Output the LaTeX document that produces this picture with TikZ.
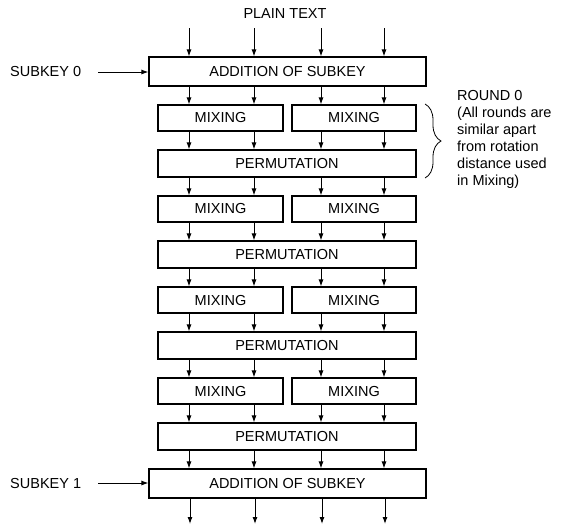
\documentclass[tikz,border=0pt]{standalone}
\usepackage{fontspec}
\setmainfont{Liberation Sans}
\usetikzlibrary{arrows.meta,decorations.pathreplacing,calc}
\begin{document}
\begin{tikzpicture}[x=1pt,y=-1pt,
  font=\fontsize{14.5}{17}\selectfont,
  box/.style={draw, line width=1.1pt, inner sep=0pt, align=center},
  arr/.style={line width=1pt, -{Latex[length=7pt,width=5pt]}},
  bracestyle/.style={line width=0.8pt, decorate, decoration={brace, amplitude=16pt}}]
\useasboundingbox (0,0) rectangle (572,528);
% columns
\foreach \i/\x in {1/189,2/254,3/321,4/384}{
  \coordinate (c\i) at (\x,0);
  \coordinate (t\i) at (\x,28);
  \coordinate (b\i) at (\x+1,524);
}
\node (pt) at (285,14) {PLAIN TEXT};
\node[box, minimum width=277pt, minimum height=29pt] (add0) at (287.5,71.5) {ADDITION OF SUBKEY};
\node[box, minimum width=277pt, minimum height=29pt] (add1) at (287.5,483.5) {ADDITION OF SUBKEY};
\foreach \k in {0,1,2,3}{
  \node[box, minimum width=125pt, minimum height=26pt] (mixL\k) at (220.5,118+91*\k) {MIXING};
  \node[box, minimum width=124pt, minimum height=26pt] (mixR\k) at (354,118+91*\k) {MIXING};
  \node[box, minimum width=258pt, minimum height=27pt] (perm\k) at (287,163.5+91*\k) {PERMUTATION};
}
% top and bottom arrows
\foreach \i in {1,2,3,4}{
  \draw[arr] (t\i) -- (add0.north -| t\i);
  \draw[arr] (add1.south -| b\i) -- (b\i);
}
% addition to first mixing
\draw[arr] (add0.south -| c1) -- (mixL0.north -| c1);
\draw[arr] (add0.south -| c2) -- (mixL0.north -| c2);
\draw[arr] (add0.south -| c3) -- (mixR0.north -| c3);
\draw[arr] (add0.south -| c4) -- (mixR0.north -| c4);
\foreach \k in {0,1,2,3}{
  \draw[arr] (mixL\k.south -| c1) -- (perm\k.north -| c1);
  \draw[arr] (mixL\k.south -| c2) -- (perm\k.north -| c2);
  \draw[arr] (mixR\k.south -| c3) -- (perm\k.north -| c3);
  \draw[arr] (mixR\k.south -| c4) -- (perm\k.north -| c4);
}
\foreach \k/\n in {0/1,1/2,2/3}{
  \draw[arr] (perm\k.south -| c1) -- (mixL\n.north -| c1);
  \draw[arr] (perm\k.south -| c2) -- (mixL\n.north -| c2);
  \draw[arr] (perm\k.south -| c3) -- (mixR\n.north -| c3);
  \draw[arr] (perm\k.south -| c4) -- (mixR\n.north -| c4);
}
\foreach \i in {1,2,3,4}{
  \draw[arr] (perm3.south -| c\i) -- (add1.north -| c\i);
}
% subkeys
\node[anchor=west, inner sep=0pt] (sk0) at (10,72) {SUBKEY 0};
\node[anchor=west, inner sep=0pt] (sk1) at (10,483) {SUBKEY 1};
\coordinate (s0) at (98,72);
\coordinate (s1) at (98,483);
\draw[arr] (s0) -- (s0 -| add0.west);
\draw[arr] (s1) -- (s1 -| add1.west);
% brace and note
\coordinate (br0) at (425,104);
\coordinate (br1) at (425,178);
\draw[bracestyle] (br0) -- (br1);
\node[anchor=north west, align=left, inner sep=0pt] (note) at (457,90)
  {ROUND 0\\(All rounds are\\similar apart\\from rotation\\distance used\\in Mixing)};
\end{tikzpicture}
\end{document}
